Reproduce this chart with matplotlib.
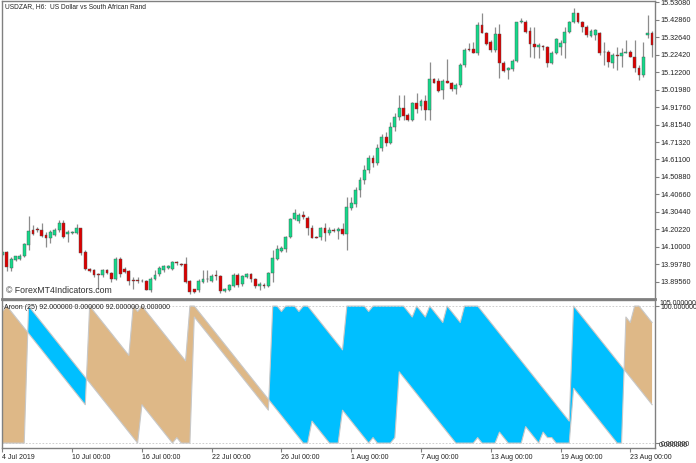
import matplotlib
matplotlib.use("Agg")

import matplotlib.pyplot as plt
import numpy as np

# USDZAR H6 candles (bar 0 = 4 Jul 2019 00:00)
opens = [14.052, 14.072, 13.978, 14.023, 14.027, 14.046, 14.111, 14.199, 14.202, 14.202,
         14.169, 14.150, 14.169, 14.199, 14.238, 14.175, 14.179, 14.183, 14.208, 14.072,
         13.974, 13.965, 13.939, 13.935, 13.968, 13.949, 13.910, 14.027, 13.974, 13.959,
         13.904, 13.904, 13.902, 13.900, 13.848, 13.910, 13.941, 13.968, 13.980, 13.974,
         14.013, 14.000, 14.000, 13.902, 13.852, 13.848, 13.896, 13.910, 13.902, 13.935,
         13.929, 13.844, 13.848, 13.871, 13.935, 13.883, 13.926, 13.941, 13.910, 13.871,
         13.877, 13.871, 13.945, 14.029, 14.078, 14.091, 14.156, 14.261, 14.253, 14.286,
         14.271, 14.208, 14.158, 14.156, 14.212, 14.179, 14.202, 14.195, 14.204, 14.173,
         14.325, 14.351, 14.433, 14.491, 14.550, 14.620, 14.590, 14.680, 14.740, 14.710,
         14.800, 14.860, 14.910, 14.871, 14.842, 14.939, 14.923, 14.955, 14.900, 15.079,
         15.071, 15.017, 15.071, 15.060, 15.021, 15.046, 15.163, 15.256, 15.254, 15.235,
         15.396, 15.352, 15.299, 15.250, 15.342, 15.176, 15.134, 15.138, 15.188, 15.414,
         15.416, 15.363, 15.286, 15.266, 15.274, 15.266, 15.176, 15.235, 15.270, 15.289,
         15.358, 15.416, 15.465, 15.416, 15.387, 15.332, 15.338, 15.348, 15.237, 15.241,
         15.173, 15.223, 15.215, 15.235, 15.241, 15.211, 15.143, 15.104, 15.338, 15.348]
highs = [14.078, 14.078, 14.039, 14.050, 14.058, 14.124, 14.282, 14.228, 14.214, 14.238,
         14.189, 14.199, 14.208, 14.257, 14.257, 14.199, 14.195, 14.234, 14.212, 14.082,
         13.980, 13.974, 13.945, 13.974, 13.974, 13.955, 14.039, 14.039, 13.984, 13.965,
         13.926, 13.922, 13.910, 13.906, 13.926, 13.965, 13.988, 13.994, 13.994, 14.019,
         14.019, 14.004, 14.043, 13.906, 13.857, 13.910, 13.965, 13.965, 13.941, 13.968,
         13.935, 13.863, 13.883, 13.945, 13.949, 13.935, 13.945, 13.945, 13.916, 13.896,
         13.887, 13.955, 14.082, 14.111, 14.105, 14.163, 14.267, 14.319, 14.296, 14.312,
         14.280, 14.228, 14.163, 14.218, 14.238, 14.218, 14.208, 14.214, 14.241, 14.390,
         14.394, 14.448, 14.511, 14.580, 14.640, 14.640, 14.700, 14.760, 14.770, 14.830,
         14.880, 14.990, 14.988, 14.881, 14.949, 14.997, 14.962, 14.988, 15.182, 15.085,
         15.085, 15.079, 15.196, 15.065, 15.056, 15.173, 15.260, 15.293, 15.299, 15.416,
         15.465, 15.358, 15.309, 15.383, 15.402, 15.188, 15.153, 15.196, 15.416, 15.435,
         15.426, 15.383, 15.383, 15.293, 15.280, 15.274, 15.247, 15.319, 15.309, 15.387,
         15.422, 15.494, 15.469, 15.422, 15.397, 15.371, 15.371, 15.358, 15.299, 15.250,
         15.231, 15.270, 15.260, 15.309, 15.250, 15.309, 15.163, 15.299, 15.455, 15.363]
lows = [14.046, 13.961, 13.961, 14.019, 14.023, 14.042, 14.085, 14.169, 14.189, 14.160,
        14.101, 14.121, 14.163, 14.189, 14.150, 14.130, 14.173, 14.175, 14.052, 13.965,
        13.955, 13.926, 13.857, 13.926, 13.941, 13.896, 13.906, 13.926, 13.945, 13.877,
        13.857, 13.887, 13.894, 13.848, 13.838, 13.906, 13.929, 13.955, 13.974, 13.968,
        13.994, 13.988, 13.887, 13.828, 13.832, 13.838, 13.887, 13.896, 13.896, 13.906,
        13.832, 13.838, 13.842, 13.867, 13.867, 13.871, 13.916, 13.896, 13.863, 13.848,
        13.863, 13.867, 13.896, 14.023, 14.072, 14.072, 14.150, 14.257, 14.238, 14.261,
        14.169, 14.150, 14.150, 14.140, 14.136, 14.169, 14.189, 14.144, 14.169, 14.082,
        14.316, 14.335, 14.394, 14.470, 14.530, 14.570, 14.580, 14.660, 14.690, 14.700,
        14.780, 14.840, 14.842, 14.838, 14.838, 14.881, 14.900, 14.842, 14.842, 15.056,
        15.007, 14.962, 15.056, 15.013, 14.993, 15.036, 15.153, 15.247, 15.231, 15.221,
        15.348, 15.280, 15.241, 15.241, 15.085, 15.124, 15.079, 15.130, 15.182, 15.406,
        15.352, 15.211, 15.202, 15.202, 15.250, 15.153, 15.169, 15.227, 15.221, 15.202,
        15.348, 15.406, 15.406, 15.358, 15.328, 15.328, 15.309, 15.221, 15.163, 15.153,
        15.143, 15.134, 15.153, 15.231, 15.208, 15.124, 15.075, 15.095, 15.319, 15.211]
closes = [14.072, 13.984, 14.029, 14.045, 14.050, 14.117, 14.195, 14.175, 14.200, 14.163,
          14.150, 14.189, 14.202, 14.241, 14.156, 14.189, 14.189, 14.208, 14.066, 13.974,
          13.961, 13.935, 13.937, 13.965, 13.949, 13.910, 14.031, 13.941, 13.955, 13.902,
          13.902, 13.902, 13.900, 13.851, 13.910, 13.935, 13.980, 13.988, 13.988, 14.013,
          14.004, 13.992, 13.896, 13.838, 13.838, 13.902, 13.910, 13.912, 13.931, 13.931,
          13.844, 13.855, 13.877, 13.935, 13.877, 13.929, 13.941, 13.910, 13.871, 13.883,
          13.873, 13.945, 14.033, 14.091, 14.095, 14.156, 14.263, 14.296, 14.286, 14.273,
          14.208, 14.154, 14.154, 14.212, 14.179, 14.202, 14.193, 14.206, 14.173, 14.331,
          14.355, 14.433, 14.491, 14.550, 14.620, 14.590, 14.680, 14.740, 14.710, 14.800,
          14.860, 14.910, 14.865, 14.842, 14.939, 14.904, 14.955, 14.900, 15.079, 15.060,
          15.013, 15.071, 15.060, 15.021, 15.046, 15.163, 15.250, 15.252, 15.235, 15.396,
          15.352, 15.284, 15.250, 15.342, 15.173, 15.130, 15.143, 15.188, 15.412, 15.418,
          15.358, 15.284, 15.270, 15.280, 15.266, 15.176, 15.235, 15.313, 15.293, 15.358,
          15.416, 15.465, 15.416, 15.387, 15.338, 15.363, 15.367, 15.235, 15.241, 15.182,
          15.221, 15.217, 15.235, 15.241, 15.211, 15.143, 15.104, 15.208, 15.352, 15.280]

# Aroon (25) lines
aroon_up = [0, 0, 0, 0, 0, 0, 100, 96, 92, 88, 84, 80, 76, 72, 68, 64, 60, 56, 52, 48,
            44, 40, 36, 32, 28, 24, 20, 16, 12, 8, 4, 0, 28, 24, 20, 16, 12, 8, 4, 0,
            4, 0, 0, 0, 92, 88, 84, 80, 76, 72, 68, 64, 60, 56, 52, 48, 44, 40, 36, 32,
            28, 24, 100, 100, 96, 100, 100, 100, 96, 100, 100, 96, 92, 88, 84, 80, 76, 72, 68, 100,
            100, 100, 100, 100, 96, 100, 100, 100, 100, 100, 100, 100, 100, 96, 92, 100, 96, 92, 100, 96,
            92, 88, 100, 96, 92, 88, 100, 100, 100, 100, 96, 92, 88, 84, 80, 76, 72, 68, 64, 60,
            56, 52, 48, 44, 40, 36, 32, 28, 24, 20, 16, 100, 96, 92, 88, 84, 80, 76, 72, 68,
            64, 60, 56, 52, 48, 44, 40, 36, 32, 28]
aroon_down = [96, 100, 96, 92, 88, 84, 80, 76, 72, 68, 64, 60, 56, 52, 48, 44, 40, 36, 32, 28,
              100, 96, 92, 88, 84, 80, 76, 72, 68, 64, 100, 96, 100, 96, 92, 88, 84, 80, 76, 72,
              68, 64, 60, 100, 100, 96, 92, 88, 84, 80, 76, 72, 68, 64, 60, 56, 52, 48, 44, 40,
              36, 32, 28, 24, 20, 16, 12, 8, 4, 0, 0, 16, 12, 8, 4, 0, 0, 0, 24, 20,
              16, 12, 8, 4, 0, 4, 0, 0, 0, 0, 4, 52, 48, 44, 40, 36, 32, 28, 24, 20,
              16, 12, 8, 4, 0, 0, 0, 0, 0, 4, 0, 0, 0, 0, 8, 4, 0, 0, 0, 0,
              12, 8, 4, 0, 8, 4, 4, 0, 0, 0, 0, 40, 36, 32, 28, 24, 20, 16, 12, 8,
              4, 0, 0, 92, 88, 100, 100, 96, 92, 88]

price_ticks = [15.53080, 15.42860, 15.32640, 15.22420, 15.12200, 15.01980, 14.91760, 14.81540,
               14.71320, 14.61100, 14.50880, 14.40660, 14.30440, 14.20220, 14.10000, 13.99780,
               13.89560]
date_ticks = [0, 16, 32, 48, 64, 80, 96, 112, 128, 144]
date_labels = ["4 Jul 2019", "10 Jul 00:00", "16 Jul 00:00", "22 Jul 00:00", "26 Jul 00:00",
               "1 Aug 00:00", "7 Aug 00:00", "13 Aug 00:00", "19 Aug 00:00", "23 Aug 00:00"]

FONT = "Liberation Sans"
FS = 5.0
BULL = "#14d98a"
BEAR = "#dd0000"
WICK = "#8c8c8c"
FRAME = "#808080"
TXT = "#222222"
W, H = 696, 463

fig = plt.figure(figsize=(W / 100, H / 100), dpi=100)
ax = fig.add_axes([2 / W, 1 - 299 / H, 653 / W, 298 / H])
ax2 = fig.add_axes([2 / W, 1 - 448 / H, 653 / W, 148 / H])

x = np.arange(len(opens))
o = np.array(opens); c = np.array(closes)
hi = np.array(highs); lo = np.array(lows)
up_bar = c >= o

# candles
ax.vlines(x, lo, hi, color=WICK, lw=0.9, zorder=1)
body_lo = np.minimum(o, c)
body_h = np.maximum(np.abs(c - o), 0.003)
ax.bar(x[up_bar], body_h[up_bar], bottom=body_lo[up_bar], width=0.65,
       color=BULL, edgecolor="#505050", lw=0.3, zorder=2)
ax.bar(x[~up_bar], body_h[~up_bar], bottom=body_lo[~up_bar], width=0.65,
       color=BEAR, edgecolor="#505050", lw=0.3, zorder=2)

xmin, xmax = -0.1, -0.1 + 653 / 4.36
ax.set_xlim(xmin, xmax)
ax.set_ylim(13.796, 15.537)
ax.yaxis.tick_right()
ax.set_yticks(price_ticks)
ax.set_yticklabels([f"{p:.5f}" for p in price_ticks])
ax.tick_params(axis="y", length=3, width=0.8, color=FRAME, pad=1, labelsize=FS + 0.2,
               labelcolor=TXT, labelfontfamily=FONT)
ax.set_xticks([])
for s in ax.spines.values():
    s.set_color(FRAME)
    s.set_linewidth(1.0)
ax.spines["bottom"].set_linewidth(2.0)

ax.text(0.004, 0.992, "USDZAR, H6:  US Dollar vs South African Rand", transform=ax.transAxes,
        ha="left", va="top", fontsize=4.8, family=FONT, color=TXT)
ax.text(0.006, 0.012, "\u00a9 ForexMT4Indicators.com", transform=ax.transAxes,
        ha="left", va="bottom", fontsize=6.3, family=FONT, color="#333333")

# Aroon window
up = np.array(aroon_up, dtype=float)
dn = np.array(aroon_down, dtype=float)
ax2.fill_between(x, dn, up, where=up >= dn, interpolate=True, color="#00bfff", lw=0)
ax2.fill_between(x, dn, up, where=up <= dn, interpolate=True, color="#deb887", lw=0)
ax2.plot(x, up, color="#c8c8c8", lw=0.8)
ax2.plot(x, dn, color="#c8c8c8", lw=0.8)
ax2.axhline(100, color="#c8c8c8", lw=0.6, ls=(0, (2, 2)))
ax2.axhline(0, color="#c8c8c8", lw=0.6, ls=(0, (2, 2)))
ax2.set_xlim(xmin, xmax)
ax2.set_ylim(-3.6, 104.4)
ax2.yaxis.tick_right()
ax2.set_yticks([100, 0])
ax2.set_yticklabels(["100.000000", "0.000000"])
ax2.tick_params(axis="y", length=3, width=0.8, color=FRAME, pad=1, labelsize=FS,
                labelcolor=TXT, labelfontfamily=FONT)
# MT4 prints the window max/min labels nearly on top of the level labels
ytr = ax2.get_yaxis_transform()
ax2.annotate("105.000000", (1.0, 101.8), xycoords=ytr, xytext=(3, 0), textcoords="offset points",
             ha="left", va="center", fontsize=FS, family=FONT, color=TXT, annotation_clip=False)
ax2.annotate("0.000000", (1.0, -1.6), xycoords=ytr, xytext=(3, 0), textcoords="offset points",
             ha="left", va="center", fontsize=FS, family=FONT, color=TXT, annotation_clip=False)
ax2.set_xticks(date_ticks)
ax2.set_xticklabels(date_labels)
ax2.tick_params(axis="x", direction="out", length=3, width=0.8, color=FRAME, pad=1,
                labelsize=FS, labelcolor=TXT, labelfontfamily=FONT)
for lab in ax2.get_xticklabels():
    lab.set_horizontalalignment("left")
for s in ax2.spines.values():
    s.set_color(FRAME)
    s.set_linewidth(1.0)
ax2.text(0.003, 0.975, "Aroon (25) 92.000000 0.000000 92.000000 0.000000", transform=ax2.transAxes,
         ha="left", va="top", fontsize=FS, family=FONT, color=TXT)

fig.savefig("out.png", dpi=100)
